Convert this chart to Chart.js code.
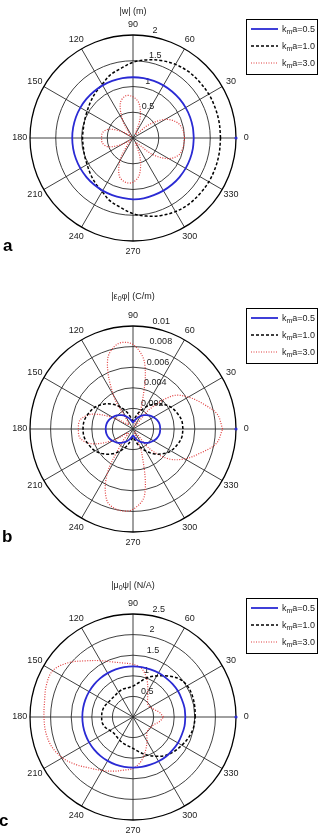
<!DOCTYPE html>
<html>
<head>
<meta charset="utf-8">
<script src="https://cdn.jsdelivr.net/npm/chart.js@4.4.0/dist/chart.umd.min.js"></script>
<style>
  body { margin: 0; background: #fff; font-family: "Liberation Sans", Arial, sans-serif; color: #222; }
  #page { position: relative; width: 323px; height: 836px; overflow: hidden; }
  canvas { position: absolute; left: 0; }
  .title { position: absolute; left: 83px; width: 100px; text-align: center; font-size: 9px; line-height: 12px; }
  .letter { position: absolute; font-weight: bold; font-size: 17px; line-height: 17px; color: #000; }
  .legend { position: absolute; left: 246px; width: 72px; height: 56px; border: 1px solid #000; box-sizing: border-box; font-size: 9px; }
  .legend .row { position: absolute; left: 4px; height: 12px; line-height: 12px; white-space: nowrap; }
  .legend svg { position: absolute; left: 0; top: 4px; }
  .legend span { position: absolute; left: 31px; top: 0; }
  sub { font-size: 7px; vertical-align: -2px; line-height: 0; }
</style>
</head>
<body>
<div id="page"></div>
<script>
// angles of the sampled points, degrees
const angleDeg = [0, 10, 20, 30, 40, 50, 60, 70, 80, 90, 100, 110, 120, 130, 140, 150, 160, 170,
                  180, 190, 200, 210, 220, 230, 240, 250, 260, 270, 280, 290, 300, 310, 320, 330, 340, 350];
const seriesLabels = ["0.5", "1.0", "3.0"];
const spokeLabels = [0, 30, 60, 90, 120, 150, 180, 210, 240, 270, 300, 330];

// (a) |w| (m)
const wTicks = [0.5, 1, 1.5, 2];
const wTickLabels = ["0.5", "1", "1.5", "2"];
const wBlue = [1.18, 1.18, 1.18, 1.18, 1.18, 1.18, 1.18, 1.18, 1.18, 1.18, 1.18, 1.18, 1.18, 1.18, 1.18, 1.18, 1.18, 1.18,
               1.18, 1.18, 1.18, 1.18, 1.18, 1.18, 1.18, 1.18, 1.18, 1.19, 1.19, 1.18, 1.18, 1.18, 1.18, 1.18, 1.18, 1.18];
const wBlack = [1.70, 1.70, 1.70, 1.70, 1.69, 1.68, 1.65, 1.60, 1.54, 1.47, 1.37, 1.30, 1.20, 1.14, 1.08, 1.03, 1.00, 0.98,
                0.98, 0.98, 1.00, 1.03, 1.08, 1.14, 1.20, 1.30, 1.37, 1.47, 1.54, 1.60, 1.65, 1.68, 1.69, 1.70, 1.70, 1.70];
const wRed = [1.00, 0.98, 0.90, 0.72, 0.40, 0.08, 0.10, 0.40, 0.68, 0.80, 0.83, 0.72, 0.40, 0.10, 0.05, 0.25, 0.50, 0.60,
              0.61, 0.60, 0.50, 0.25, 0.06, 0.15, 0.50, 0.78, 0.87, 0.86, 0.72, 0.40, 0.10, 0.15, 0.50, 0.80, 0.95, 0.99];

// (b) |eps0 phi| (C/m)
const phiTicks = [0.002, 0.004, 0.006, 0.008, 0.01];
const phiTickLabels = ["0.002", "0.004", "0.006", "0.008", "0.01"];
const phiBlue = [0.00265, 0.00262, 0.0025, 0.0023, 0.00205, 0.00175, 0.00145, 0.00112, 0.00082, 0.00065, 0.00082, 0.00112,
                 0.00145, 0.00175, 0.00205, 0.0023, 0.0025, 0.00262, 0.00265, 0.00262, 0.0025, 0.0023, 0.00205, 0.00175,
                 0.00145, 0.00112, 0.00082, 0.00065, 0.00082, 0.00112, 0.00145, 0.00175, 0.00205, 0.0023, 0.0025, 0.00262];
const phiBlack = [0.00485, 0.0048, 0.00455, 0.00425, 0.00375, 0.00315, 0.00245, 0.00175, 0.0011, 0.0008, 0.0011, 0.00175,
                  0.00245, 0.00315, 0.00375, 0.00425, 0.00455, 0.0048, 0.00485, 0.0048, 0.00455, 0.00425, 0.00375, 0.00315,
                  0.00245, 0.00175, 0.0011, 0.0008, 0.0011, 0.00175, 0.00245, 0.00315, 0.00375, 0.00425, 0.00455, 0.0048];
const phiRed = [0.0087, 0.0083, 0.0072, 0.0062, 0.0050, 0.0025, 0.0003, 0.0025, 0.0065, 0.0082, 0.0084, 0.0072,
                0.0038, 0.0006, 0.0008, 0.0022, 0.0042, 0.0052, 0.0053, 0.0052, 0.0042, 0.0022, 0.0006, 0.0015,
                0.0050, 0.0074, 0.0080, 0.0078, 0.0065, 0.0025, 0.0003, 0.0025, 0.0045, 0.0058, 0.0069, 0.0082];

// (c) |mu0 psi| (N/A)
const psiTicks = [0.5, 1, 1.5, 2, 2.5];
const psiTickLabels = ["0.5", "1", "1.5", "2", "2.5"];
const psiBlue = [1.27, 1.27, 1.26, 1.26, 1.25, 1.24, 1.24, 1.23, 1.23, 1.23, 1.23, 1.23, 1.23, 1.23, 1.23, 1.23, 1.23, 1.23,
                 1.23, 1.23, 1.23, 1.23, 1.23, 1.23, 1.23, 1.23, 1.23, 1.23, 1.23, 1.23, 1.24, 1.25, 1.25, 1.26, 1.26, 1.27];
const psiBlack = [1.51, 1.52, 1.53, 1.52, 1.45, 1.30, 1.15, 1.02, 0.85, 0.75, 0.72, 0.72, 0.70, 0.68, 0.68, 0.70, 0.74, 0.76,
                  0.76, 0.76, 0.72, 0.65, 0.61, 0.62, 0.65, 0.68, 0.71, 0.76, 0.86, 0.98, 1.10, 1.22, 1.30, 1.37, 1.44, 1.49];
const psiRed = [0.74, 0.65, 0.54, 0.48, 0.47, 0.55, 0.72, 0.98, 1.20, 1.28, 1.33, 1.42, 1.58, 1.78, 2.05, 2.25, 2.24, 2.18,
                2.16, 2.15, 2.10, 1.98, 1.80, 1.62, 1.50, 1.40, 1.31, 1.25, 1.10, 0.88, 0.68, 0.52, 0.48, 0.50, 0.54, 0.65];

const panels = [
  { top: 0, title: "|w| (m)", titleY: 5, letter: "a", letterX: 3, letterY: 237, legendY: 19,
    ticks: wTicks, tickLabels: wTickLabels, values: [wBlue, wBlack, wRed] },
  { top: 291, title: "|&epsilon;<sub>0</sub>&phi;| (C/m)", titleY: 290, letter: "b", letterX: 2, letterY: 528, legendY: 308,
    ticks: phiTicks, tickLabels: phiTickLabels, values: [phiBlue, phiBlack, phiRed] },
  { top: 579, title: "|&mu;<sub>0</sub>&psi;| (N/A)", titleY: 579, letter: "c", letterX: -1, letterY: 812, legendY: 598,
    ticks: psiTicks, tickLabels: psiTickLabels, values: [psiBlue, psiBlack, psiRed] }
];

const lineStyles = [
  { borderColor: "#2a2ad4", borderWidth: 1.8, borderDash: [] },
  { borderColor: "#000000", borderWidth: 1.5, borderDash: [3, 2] },
  { borderColor: "#e03c3c", borderWidth: 1.2, borderDash: [1, 1.5] }
];

function toXY(r) {
  const pts = angleDeg.map((a, i) => ({
    x: r[i] * Math.cos(a * Math.PI / 180),
    y: r[i] * Math.sin(a * Math.PI / 180)
  }));
  pts.push(pts[0]);
  return pts;
}

// MATLAB-like polar grid drawn from the chart's own x/y scales
const polarGrid = {
  id: "polarGrid",
  beforeDatasetsDraw(chart, args, opts) {
    const ctx = chart.ctx;
    const xs = chart.scales.x, ys = chart.scales.y;
    const cx = xs.getPixelForValue(0), cy = ys.getPixelForValue(0);
    const rad = v => xs.getPixelForValue(v) - cx;
    const ticks = opts.ticks;
    const max = ticks[ticks.length - 1];
    const R = rad(max);
    ctx.save();
    ctx.strokeStyle = "#2a2a2a";
    ctx.lineWidth = 0.9;
    ticks.slice(0, -1).forEach(v => {
      ctx.beginPath();
      ctx.arc(cx, cy, rad(v), 0, 2 * Math.PI);
      ctx.stroke();
    });
    spokeLabels.slice(0, 6).forEach(a => {
      const t = a * Math.PI / 180;
      ctx.beginPath();
      ctx.moveTo(cx - R * Math.cos(t), cy + R * Math.sin(t));
      ctx.lineTo(cx + R * Math.cos(t), cy - R * Math.sin(t));
      ctx.stroke();
    });
    ctx.strokeStyle = "#000";
    ctx.lineWidth = 1.3;
    ctx.beginPath();
    ctx.arc(cx, cy, R, 0, 2 * Math.PI);
    ctx.stroke();

    ctx.fillStyle = "#222";
    ctx.font = '9px "Liberation Sans", Arial, sans-serif';
    ctx.textAlign = "center";
    ctx.textBaseline = "middle";
    const lr = rad(max * 1.1);
    spokeLabels.forEach(a => {
      const t = a * Math.PI / 180;
      ctx.fillText(String(a), cx + lr * Math.cos(t), cy - lr * Math.sin(t));
    });

    ctx.textAlign = "left";
    ctx.textBaseline = "bottom";
    const step = ticks[1] - ticks[0];
    const t82 = 82 * Math.PI / 180;
    const pad = ctx.measureText("  ").width;
    ticks.forEach((v, i) => {
      const p = rad(v + step / 20);
      ctx.fillText(opts.labels[i], cx + p * Math.cos(t82) + pad, cy - p * Math.sin(t82));
    });
    ctx.restore();
  }
};

const page = document.getElementById("page");

panels.forEach(p => {
  const canvas = document.createElement("canvas");
  canvas.width = 323;
  canvas.height = 290;
  canvas.style.top = p.top + "px";
  page.appendChild(canvas);

  const max = p.ticks[p.ticks.length - 1];
  const datasets = p.values.map((vals, i) => Object.assign({
    label: "kma=" + seriesLabels[i],
    data: toXY(vals),
    showLine: true,
    fill: false,
    pointRadius: 0,
    tension: 0.35,
    clip: false
  }, lineStyles[i]));
  // single point at the outer ring on the 0 degree spoke
  datasets.push({
    label: "",
    data: [{ x: max, y: 0 }],
    showLine: false,
    pointRadius: 1.6,
    pointBorderWidth: 0,
    pointBackgroundColor: lineStyles[0].borderColor,
    clip: false
  });

  new Chart(canvas, {
    type: "scatter",
    data: { datasets: datasets },
    options: {
      responsive: false,
      animation: false,
      layout: { padding: { left: 30, right: 87, top: 35, bottom: 49 } },
      scales: {
        x: { type: "linear", min: -max, max: max, display: false },
        y: { type: "linear", min: -max, max: max, display: false }
      },
      plugins: {
        legend: { display: false },
        tooltip: { enabled: false },
        polarGrid: { ticks: p.ticks, labels: p.tickLabels }
      }
    },
    plugins: [polarGrid]
  });

  const title = document.createElement("div");
  title.className = "title";
  title.style.top = p.titleY + "px";
  title.innerHTML = p.title;
  page.appendChild(title);

  const letter = document.createElement("div");
  letter.className = "letter";
  letter.style.left = p.letterX + "px";
  letter.style.top = p.letterY + "px";
  letter.textContent = p.letter;
  page.appendChild(letter);

  const legend = document.createElement("div");
  legend.className = "legend";
  legend.style.top = p.legendY + "px";
  seriesLabels.forEach((lab, i) => {
    const st = lineStyles[i];
    const row = document.createElement("div");
    row.className = "row";
    row.style.top = (3 + i * 17) + "px";
    row.innerHTML =
      '<svg width="27" height="4"><line x1="0" y1="2" x2="27" y2="2" stroke="' + st.borderColor +
      '" stroke-width="' + st.borderWidth + '" stroke-dasharray="' + (st.borderDash.length ? st.borderDash.join(",") : "none") +
      '"/></svg><span>k<sub>m</sub>a=' + lab + '</span>';
    legend.appendChild(row);
  });
  page.appendChild(legend);
});
</script>
</body>
</html>
